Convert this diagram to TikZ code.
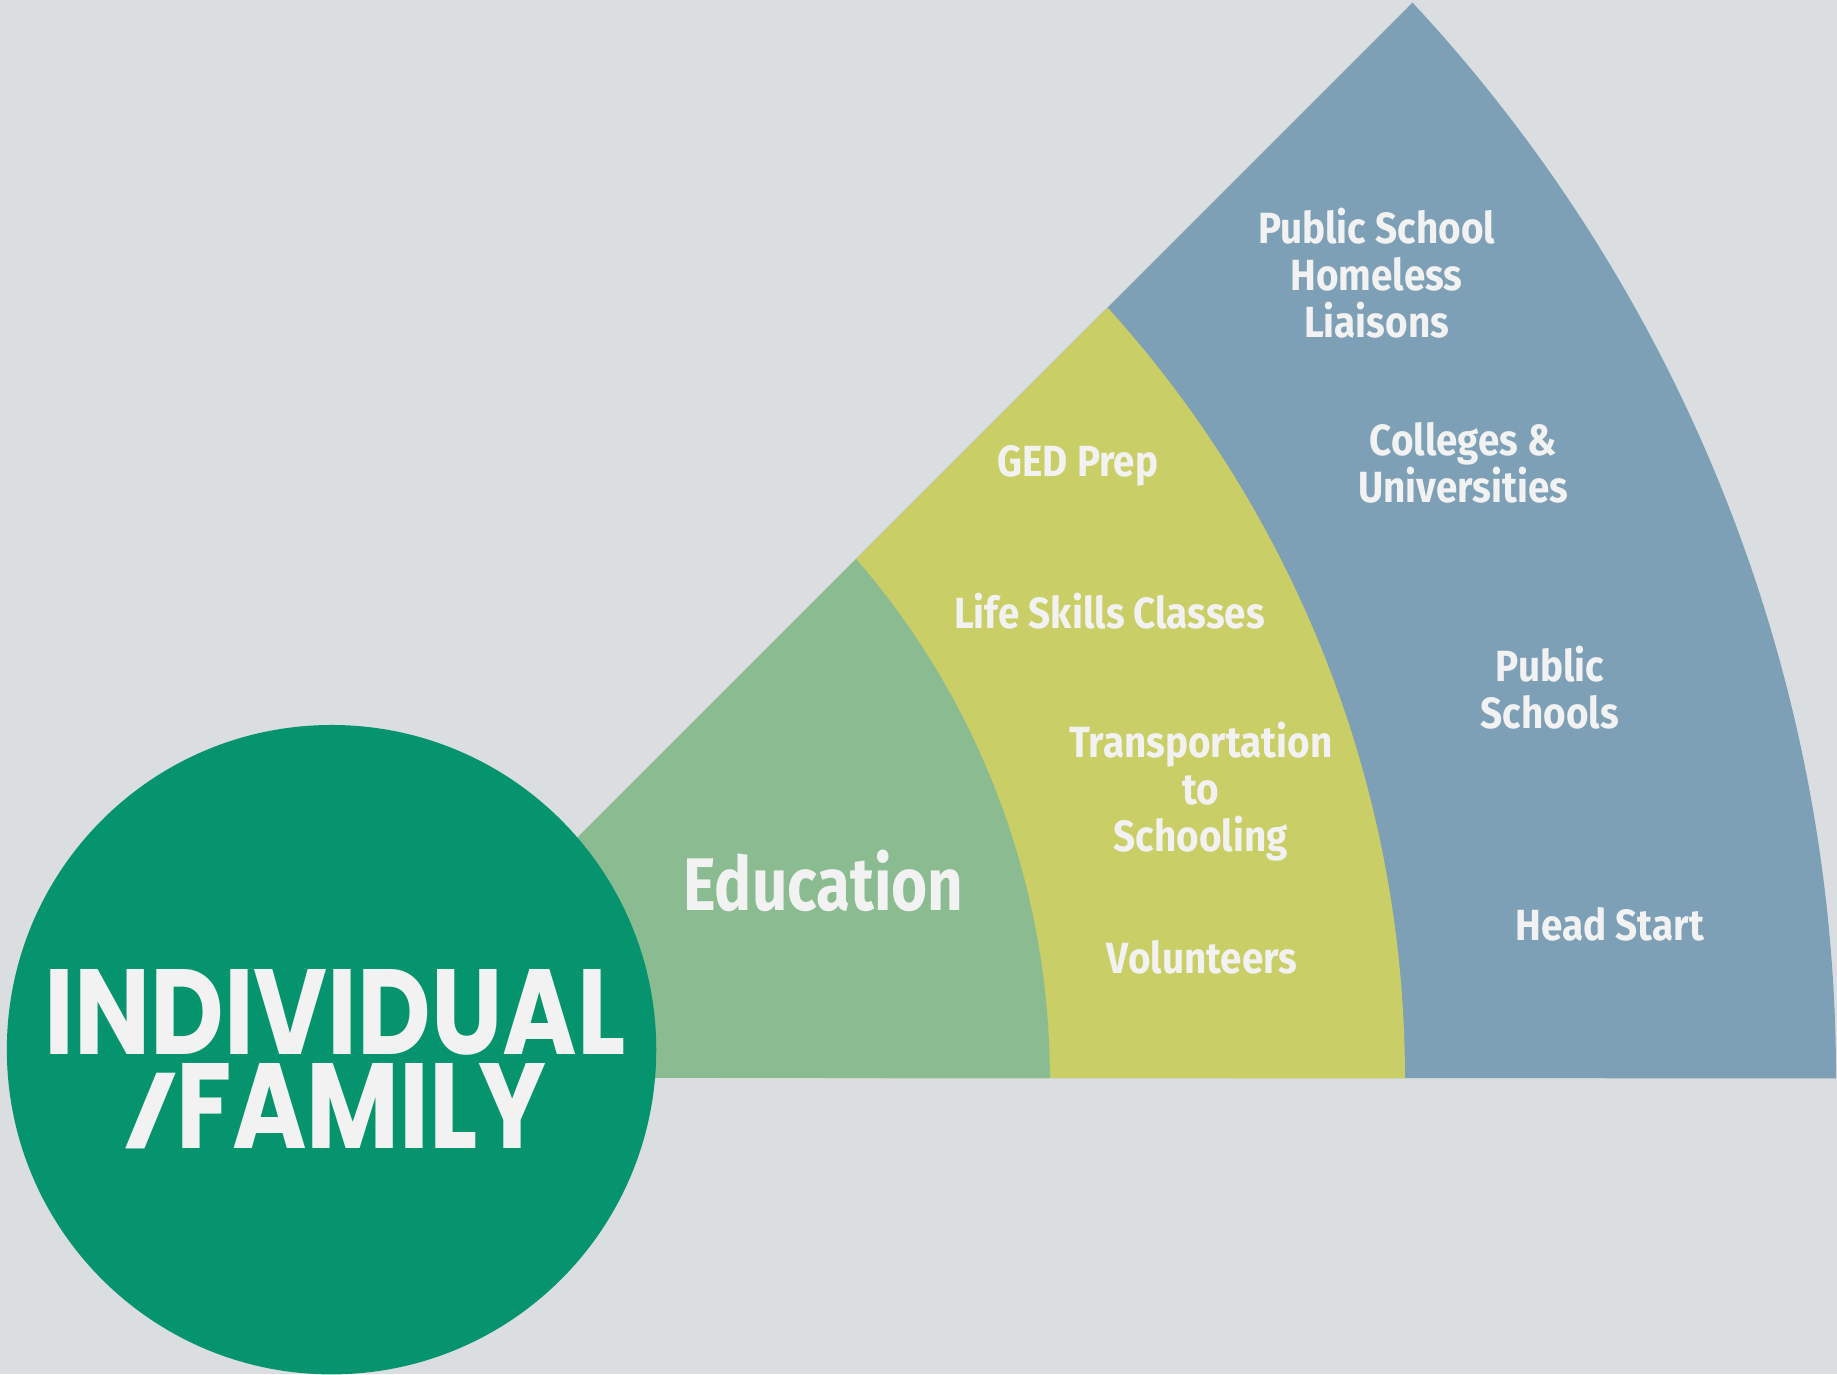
\documentclass[tikz,border=0pt]{standalone}
\usepackage{fontspec}
\usepackage{xcolor}
\usepackage{tikz}
\setmainfont{Fira Sans}
\newfontfamily\lblfont{Fira Sans}[FakeStretch=0.885]
\newfontfamily\edufont{Fira Sans}[FakeStretch=0.83]
\newfontfamily\bigfont{Poppins}[FakeStretch=0.836]
\definecolor{bggray}{HTML}{DADEE0}
\definecolor{circgreen}{HTML}{06946F}
\definecolor{edugreen}{HTML}{8BBC91}
\definecolor{midyellow}{HTML}{CACE67}
\definecolor{outblue}{HTML}{7DA0B6}
\definecolor{txtwhite}{HTML}{F2F2F2}
\tikzset{
  lbl/.style={text=txtwhite, align=center, inner sep=0pt,
    font=\lblfont\bfseries\fontsize{10.6}{11.4}\selectfont},
}

\begin{document}
\begin{tikzpicture}[x=0.01cm, y=0.01cm]
            \fill[bggray] (0, 0) rectangle (1568, 1173);
            \useasboundingbox (0, 0) rectangle (1568, 1173);
            \clip (0, 0) rectangle (1568, 1173);

            \fill[outblue] (288, 253) -- (1205.7, 1170.7) arc[start angle=42.98, end angle=0, radius=13.46cm] -- cycle;
            \fill[midyellow] (288, 253) -- (945.4, 910.4) arc[start angle=42.19, end angle=0, radius=9.79cm] -- cycle;
            \fill[edugreen] (288, 253) -- (730.8, 695.8) arc[start angle=40.92, end angle=0, radius=6.76cm] -- cycle;
            \fill[circgreen] (283, 277) circle[radius=2.77cm];

            \node[text=txtwhite, align=center, inner sep=0pt,
              font=\bigfont\fontseries{sb}\fontsize{29.4}{22.8}\selectfont] (family) at (286, 269)
              {INDIVIDUAL\\\smash{\raisebox{0.1em}{\scalebox{1.15}[0.55]{/}}}FAMILY};
            \node[text=txtwhite, inner sep=0pt,
              font=\edufont\bfseries\fontsize{18.1}{20}\selectfont] (edu) at (703, 421) {Education};

            \node[lbl] (ged) at (920, 775) {GED Prep};
            \node[lbl] (life) at (947, 651) {Life Skills Classes};
            \node[lbl] (trans) at (1025, 497) {Transportation\\to\\Schooling};
            \node[lbl] (vol) at (1026, 356) {Volunteers};

            \node[lbl] (liaison) at (1175, 940) {Public School\\Homeless\\Liaisons};
            \node[lbl] (college) at (1249, 778) {Colleges \&\\Universities};
            \node[lbl] (pubsch) at (1323, 586) {Public\\Schools};
            \node[lbl] (head) at (1374, 384) {Head Start};
\end{tikzpicture}
\end{document}
